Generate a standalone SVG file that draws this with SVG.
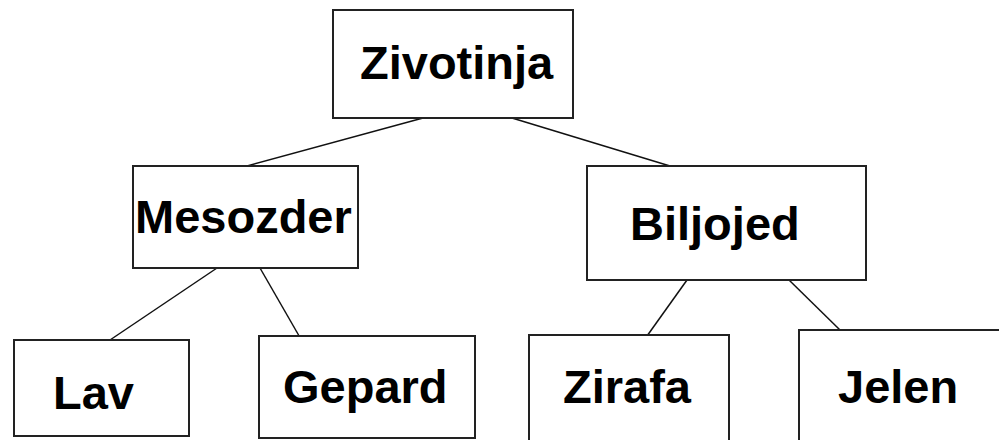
<svg xmlns="http://www.w3.org/2000/svg" width="999" height="440" viewBox="0 0 999 440">
<style>
.box{fill:#fff;stroke:#222;stroke-width:2}
.lbl{font-family:"Liberation Sans",Arial,sans-serif;font-weight:bold;font-size:47px;fill:#000}
.conn line{stroke:#111;stroke-width:1.5}
</style>
<rect width="999" height="440" fill="#fff"/>
<g class="conn" id="connectors">
<line x1="423" y1="118" x2="247" y2="166"/>
<line x1="512" y1="118" x2="670" y2="166"/>
<line x1="217" y1="268" x2="110" y2="340"/>
<line x1="260" y1="268" x2="302" y2="341"/>
<line x1="687" y1="280" x2="647" y2="336"/>
<line x1="788" y1="279" x2="840" y2="330"/>
</g>
<g id="zivotinja"><rect class="box" x="333" y="10" width="240" height="108"/><text class="lbl" x="360" y="79">Zivotinja</text></g>
<g id="mesozder"><rect class="box" x="133" y="166" width="225" height="102"/><text class="lbl" x="135" y="233">Mesozder</text></g>
<g id="biljojed"><rect class="box" x="587" y="166" width="279" height="114"/><text class="lbl" x="630" y="240">Biljojed</text></g>
<g id="lav"><rect class="box" x="14" y="340" width="175" height="96"/><text class="lbl" x="53" y="409">Lav</text></g>
<g id="gepard"><rect class="box" x="259" y="336" width="216" height="102"/><text class="lbl" x="283" y="403">Gepard</text></g>
<g id="zirafa"><rect class="box" x="529" y="335" width="200" height="120"/><text class="lbl" x="563" y="403">Zirafa</text></g>
<g id="jelen"><rect class="box" x="799" y="330" width="220" height="130"/><text class="lbl" x="838" y="403">Jelen</text></g>
</svg>
